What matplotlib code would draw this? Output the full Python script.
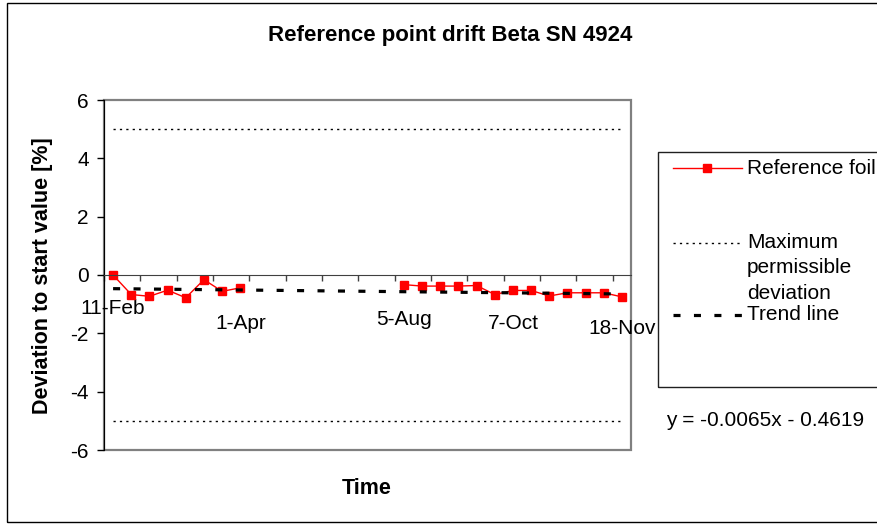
import matplotlib.pyplot as plt
import numpy as np
from matplotlib.lines import Line2D
from matplotlib.patches import Rectangle

plt.rcParams['font.family'] = ['Liberation Sans', 'DejaVu Sans']
plt.rcParams['axes.unicode_minus'] = False

# category axis with 29 slots, empty slots are NaN (no measurement)
slots = np.arange(29)
drift = [0.0, -0.67, -0.73, -0.52, -0.78, -0.16, -0.56, -0.44,
         np.nan, np.nan, np.nan, np.nan, np.nan, np.nan, np.nan, np.nan,
         -0.33, -0.38, -0.38, -0.38, -0.36, -0.67, -0.53, -0.53,
         -0.72, -0.61, -0.61, -0.61, -0.75]
max_dev = 5.0
trend_slope = -0.0065
trend_icept = -0.4619
date_labels = ['11-Feb', '1-Apr', '5-Aug', '7-Oct', '18-Nov']
date_slots = [0, 7, 16, 22, 28]
# label offsets below the axis line (points), as staggered in the original
date_pads = [17, 28, 25, 28, 32]

fig = plt.figure(figsize=(8.78, 5.24), dpi=100)
ax = fig.add_axes([104/878, 1-450/524, 527/878, 350/524])

ax.plot(slots, drift, color='red', lw=1.0, marker='s', ms=6.2,
        mec='red', mfc='red')
ax.plot(slots, np.full(len(slots), max_dev), color='black', lw=1.0,
        dashes=(1.6, 3.0))
ax.plot(slots, np.full(len(slots), -max_dev), color='black', lw=1.0,
        dashes=(1.6, 3.0))
trend = trend_slope * (slots + 1) + trend_icept
ax.plot(slots, trend, color='black', lw=2.3, dashes=(2.2, 4.2))

ax.set_xlim(-0.5, 28.5)
ax.set_ylim(-6, 6)
ax.set_yticks(np.arange(-6, 7, 2))
ax.tick_params(axis='y', length=5, width=1, pad=6, labelsize=15, direction='out')

# x axis crosses at 0, tick marks every 2 categories
ax.spines['bottom'].set_position(('data', 0))
ax.spines['bottom'].set_color('#404040')
ax.spines['left'].set_color('black')
ax.spines['top'].set_visible(False)
ax.spines['right'].set_visible(False)
ax.add_patch(Rectangle((0, 0), 1, 1, transform=ax.transAxes, fill=False,
                       ec='#808080', lw=1.6, clip_on=False, zorder=0.5))
ax.set_xticks(np.arange(-0.5, 28.5, 2))
ax.set_xticklabels([])
ax.tick_params(axis='x', which='major', length=4, width=1, color='#404040',
               direction='out')
ax.set_xticks(date_slots, minor=True)
ax.set_xticklabels(date_labels, minor=True)
ax.tick_params(axis='x', which='minor', length=0, labelsize=15)
for tk, p in zip(ax.xaxis.get_minor_ticks(), date_pads):
    tk.set_pad(p)

fig.text(450/878, 1-36/524, 'Reference point drift Beta SN 4924',
         ha='center', va='center', fontsize=16, fontweight='bold')
fig.text(43/878, 1-276/524, 'Deviation to start value [%]', rotation=90,
         ha='center', va='center', fontsize=15.5, fontweight='bold')
fig.text(367/878, 1-489/524, 'Time', ha='center', va='center',
         fontsize=15.5, fontweight='bold')

# outer chart border
fig.add_artist(Rectangle((7.5/878, 2/524), 1.2, 519/524, transform=fig.transFigure,
                         fill=False, ec='black', lw=1.0))

# legend box, cut off on the right like the original
fig.add_artist(Rectangle((658/878, 1-387/524), 0.4, 235/524,
                         transform=fig.transFigure, fill=False, ec='#202020', lw=1.0))
hx = np.array([673, 742]) / 878
y1, y2, y3 = 1-168/524, 1-243/524, 1-315/524
fig.add_artist(Line2D(hx, [y1, y1], color='red', lw=1.0, transform=fig.transFigure))
fig.add_artist(Line2D([hx.mean()], [y1], color='red', marker='s', ms=6.2,
                      transform=fig.transFigure))
fig.add_artist(Line2D(hx, [y2, y2], color='black', lw=1.0, dashes=(1.6, 3.0),
                      transform=fig.transFigure))
fig.add_artist(Line2D(hx, [y3, y3], color='black', lw=2.3, dashes=(2.2, 4.2),
                      transform=fig.transFigure))
tx = 747/878
fig.text(tx, y1, 'Reference foil', ha='left', va='center', fontsize=15)
fig.text(tx, y2 + 10/524, 'Maximum\npermissible\ndeviation', ha='left', va='top',
         fontsize=15, linespacing=1.42)
fig.text(tx, y3, 'Trend line', ha='left', va='center', fontsize=15)

fig.text(666/878, 1-420/524, 'y = -0.0065x - 0.4619', ha='left', va='center',
         fontsize=15)

fig.savefig('out.png', dpi=100)
